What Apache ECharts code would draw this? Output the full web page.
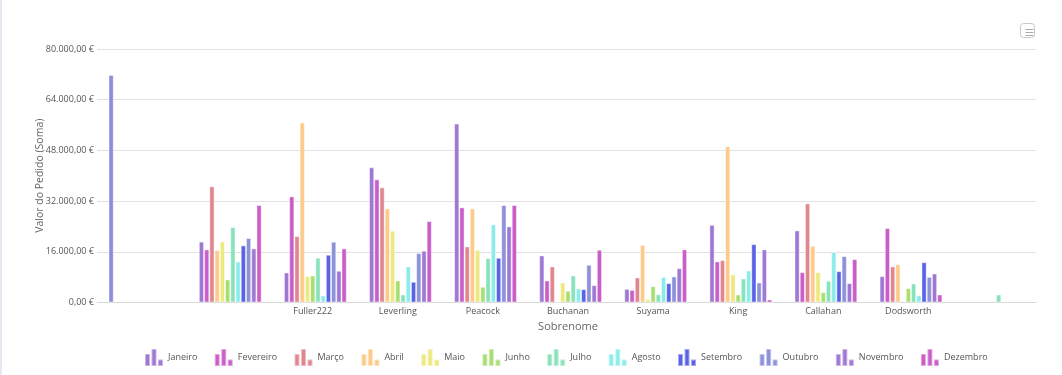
<!DOCTYPE html>
<html><head><meta charset="utf-8">
<script src="https://cdn.jsdelivr.net/npm/echarts@6/dist/echarts.min.js"></script>
<style>html,body{margin:0;padding:0;background:#fff}#c{width:1062px;height:375px;box-sizing:border-box;border-left:2px solid #e3e9f1}</style>
</head><body><div id="c"></div>
<script>
const categories = ["", "", "Fuller222", "Leverling", "Peacock", "Buchanan", "Suyama", "King", "Callahan", "Dodsworth", ""];
const months = ["Janeiro","Fevereiro","Março","Abril","Maio","Junho","Julho","Agosto","Setembro","Outubro","Novembro","Dezembro"];
const semMes = [71800, 0, 0, 0, 0, 0, 0, 0, 0, 0, 0];
const janeiro   = [0, 19200, 9480, 42660, 56470, 14850, 4300, 24520, 22750, 8310, 0];
const fevereiro = [0, 16760, 33500, 38870, 30020, 6950, 3980, 12960, 9580, 23480, 0];
const marco     = [0, 36680, 20950, 36340, 17700, 11380, 7900, 13370, 31280, 11380, 0];
const abril     = [0, 16540, 56790, 29700, 29700, 300, 18200, 49300, 17890, 12100, 0];
const maio      = [0, 19290, 8310, 22660, 16650, 6320, 1040, 8850, 9580, 0, 0];
const junho     = [0, 7270, 8530, 6950, 4960, 3700, 5150, 2530, 3250, 4520, 0];
const julho     = [0, 23810, 14120, 2530, 14000, 8530, 2620, 7580, 6830, 6000, 2530];
const agosto    = [0, 12960, 2210, 11380, 24650, 4420, 8090, 10110, 15900, 2310, 0];
const setembro  = [0, 18020, 15070, 6540, 14120, 4210, 6100, 18420, 9890, 12730, 0];
const outubro   = [0, 20330, 19180, 15580, 30750, 11910, 8220, 6320, 14630, 8090, 0];
const novembro  = [0, 17070, 10020, 16340, 24020, 5470, 10840, 16750, 6100, 9160, 0];
const dezembro  = [0, 30770, 17060, 25690, 30750, 16650, 16750, 950, 13680, 2530, 0];
const yTicks = { min: 0, max: 80000, interval: 16000 };

const monthData = [janeiro, fevereiro, marco, abril, maio, junho, julho, agosto, setembro, outubro, novembro, dezembro];
const colors = ["#9f78d3","#c95ec8","#e0868f","#fdca8a","#ece97e","#a9de72","#88e3bb","#8cecec","#5a63e6","#8c91d8","#9f78d3","#c95ec8"];
const FONT = "Open Sans";

function fmt(v){
  const s = Math.round(v).toString().replace(/\B(?=(\d{3})+(?!\d))/g, ".");
  return s + ",00 €";
}
const legendIcon = 'path://M0,5h5v12h-5z M6.5,0h5v17h-5z M13,10.5h5v6.5h-5z';

const series = [{
  name: "_", type: "bar", data: semMes.map(v => v || null), barGap: 0, barCategoryGap: "20%",
  itemStyle: { color: "#8c8fd8", borderColor: "rgba(255,255,255,0.45)", borderWidth: 1 },
  emphasis: { disabled: true }
}].concat(months.map((m, i) => ({
  name: m, type: "bar", data: monthData[i].map(v => v || null), barGap: 0, barCategoryGap: "20%",
  itemStyle: { color: colors[i], borderColor: "rgba(255,255,255,0.45)", borderWidth: 1 },
  emphasis: { disabled: true }
})));

const chart = echarts.init(document.getElementById("c"), null, { renderer: "canvas" });
chart.setOption({
  animation: false,
  grid: { left: 98, right: 26, top: 49, bottom: 72.5 },
  xAxis: {
    type: "category", data: categories,
    name: "Sobrenome", nameLocation: "middle", nameGap: 19,
    nameTextStyle: { color: "#666", fontSize: 11, fontFamily: FONT },
    axisLine: { lineStyle: { color: "#d8d8d8" } },
    axisTick: { show: false },
    axisLabel: { color: "#555", fontSize: 9, fontFamily: FONT, margin: 4, interval: 0 }
  },
  yAxis: {
    type: "value", min: yTicks.min, max: yTicks.max, interval: yTicks.interval,
    name: "Valor do Pedido (Soma)", nameLocation: "middle", nameGap: 54, nameMoveOverlap: false,
    nameTextStyle: { color: "#666", fontSize: 10.5, fontFamily: FONT },
    axisLine: { show: false },
    axisTick: { show: true, length: 3, lineStyle: { color: "#ddd" } },
    splitLine: { lineStyle: { color: "#e2e2e2" } },
    axisLabel: { color: "#555", fontSize: 9, fontFamily: FONT, margin: 6, formatter: fmt }
  },
  legend: {
    data: months, top: 348, left: 142, padding: 0, itemWidth: 18, itemHeight: 17, itemGap: 16.4,
    icon: legendIcon,
    textStyle: { color: "#555", fontSize: 9, fontFamily: FONT }
  },
  graphic: [
    { type: "rect", left: 1018, top: 23, shape: { width: 14, height: 14, r: 3 }, style: { fill: "#fff", stroke: "#c8c8c8", lineWidth: 1 } },
    { type: "line", left: 1021, top: 27, shape: { x1: 0, y1: 0, x2: 8, y2: 0 }, style: { stroke: "#aaa", lineWidth: 1 } },
    { type: "line", left: 1021, top: 30, shape: { x1: 0, y1: 0, x2: 8, y2: 0 }, style: { stroke: "#aaa", lineWidth: 1 } },
    { type: "line", left: 1021, top: 33, shape: { x1: 0, y1: 0, x2: 8, y2: 0 }, style: { stroke: "#aaa", lineWidth: 1 } }
  ],
  series: series
});
</script></body></html>
